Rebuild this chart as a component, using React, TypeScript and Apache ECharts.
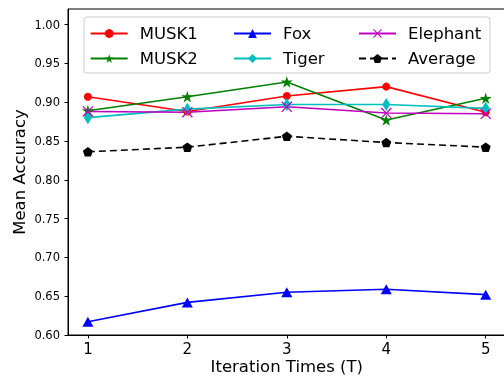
import React, { useEffect, useRef } from "react";
import * as echarts from "echarts";

const iterations = [1, 2, 3, 4, 5];
const musk1 = [0.907, 0.888, 0.908, 0.920, 0.887];
const musk2 = [0.889, 0.907, 0.926, 0.877, 0.905];
const fox = [0.617, 0.642, 0.655, 0.659, 0.652];
const tiger = [0.880, 0.891, 0.897, 0.897, 0.892];
const elephant = [0.888, 0.887, 0.894, 0.886, 0.885];
const average = [0.836, 0.842, 0.856, 0.848, 0.842];
const yTicks = [0.6, 0.65, 0.7, 0.75, 0.8, 0.85, 0.9, 0.95, 1.0];

const FONT = "DejaVu Sans";
const STAR = "path://M0,-100 L22,-31 L95,-31 L36,12 L59,81 L0,38 L-59,81 L-36,12 L-95,-31 L-22,-31 Z";
const PENT = "path://M0,-100 L95,-31 L59,81 L-59,81 L-95,-31 Z";
const XMARK = "path://M0,8 L8,0 L100,92 L92,100 Z M92,0 L100,8 L8,100 L0,92 Z";

function pairs(vals: number[]) {
  return iterations.map((x, i) => [x, vals[i]]);
}

export default function App() {
  const ref = useRef<HTMLDivElement>(null);
  useEffect(() => {
    if (!ref.current) return;
    const chart = echarts.init(ref.current, null, { renderer: "svg" });
    const mk = (name: string, vals: number[], color: string, symbol: string, size: any, dashed = false) => ({
      name,
      type: "line",
      data: pairs(vals),
      symbol,
      symbolSize: size,
      showSymbol: true,
      lineStyle: { color, width: 1.6, type: dashed ? [7, 4] : "solid" },
      itemStyle: { color, borderWidth: 0 },
      emphasis: { disabled: true },
    });
    const legendBase = {
      orient: "vertical",
      top: 25,
      padding: 0,
      itemWidth: 37,
      itemHeight: 11,
      itemGap: 8,
      selectedMode: false,
      textStyle: { fontFamily: FONT, fontSize: 16.5, color: "#000", lineHeight: 16, padding: [0, 0, 0, 7] },
    };
    chart.setOption({
      animation: false,
      grid: { left: 68, top: 9, width: 437.6, height: 326, show: true, borderColor: "#000", borderWidth: 1, backgroundColor: "transparent", containLabel: false, outerBoundsMode: "none" },
      xAxis: {
        type: "value",
        min: 0.8,
        max: 5.2,
        name: "Iteration Times (T)",
        nameLocation: "middle",
        nameGap: 24,
        nameMoveOverlap: false,
        nameTextStyle: { fontFamily: FONT, fontSize: 16.5, color: "#000", lineHeight: 15 },
        axisLine: { lineStyle: { color: "#000", width: 1 } },
        axisTick: { show: true, length: 3.5, lineStyle: { color: "#000" }, customValues: iterations },
        axisLabel: { fontFamily: FONT, fontSize: 15, color: "#000", margin: 6, customValues: iterations },
        splitLine: { show: false },
      },
      yAxis: {
        type: "value",
        min: 0.6,
        max: 1.02,
        name: "Mean Accuracy",
        nameLocation: "middle",
        nameGap: 40,
        nameMoveOverlap: false,
        nameTextStyle: { fontFamily: FONT, fontSize: 16.5, color: "#000" },
        axisLine: { show: true, lineStyle: { color: "#000", width: 1 } },
        axisTick: { show: true, length: 3.5, lineStyle: { color: "#000" }, customValues: yTicks },
        axisLabel: { fontFamily: FONT, fontSize: 11.5, color: "#000", margin: 8, customValues: yTicks, formatter: (v: number) => v.toFixed(2) },
        splitLine: { show: false },
      },
      graphic: [
        { type: "rect", z: 3, shape: { x: 84, y: 17, width: 406, height: 56, r: 3 }, style: { fill: "rgba(255,255,255,0.8)", stroke: "#cccccc", lineWidth: 1 } },
      ],
      legend: [
        { ...legendBase, left: 89.7, data: ["MUSK1", "MUSK2"] },
        { ...legendBase, left: 233, data: ["Fox", "Tiger"] },
        { ...legendBase, left: 358, data: ["Elephant", "Average"] },
      ],
      series: [
        mk("MUSK1", musk1, "#ff0000", "circle", 8),
        mk("MUSK2", musk2, "#008000", STAR, [12, 11.5]),
        mk("Fox", fox, "#0000ff", "triangle", [11, 10]),
        mk("Tiger", tiger, "#00bfbf", "diamond", [8, 13]),
        mk("Elephant", elephant, "#bf00bf", XMARK, 11),
        mk("Average", average, "#000000", PENT, [10, 9.5], true),
      ],
    });
    return () => chart.dispose();
  }, []);
  return <div ref={ref} style={{ position: "fixed", left: 0, top: 0, width: 504, height: 377 }} />;
}
